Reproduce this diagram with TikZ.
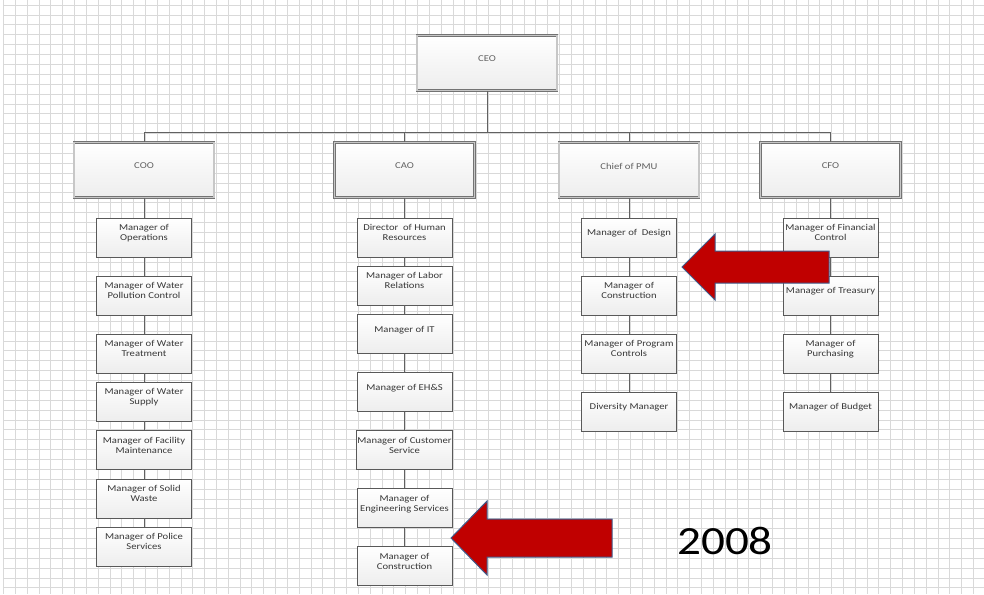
\documentclass[tikz,border=0pt]{standalone}
\usepackage{fontspec}
\usepackage{tikz}
\newfontfamily\orgfont[FakeStretch=1.18]{Carlito}
\definecolor{arrowred}{HTML}{C00000}
\definecolor{arrowrim}{HTML}{3F5A8A}
\tikzset{
	gridline/.style={line width=0.7pt, color=black!15},
	chiefbox/.style={draw=black!55, double=black!22, double distance=1.1pt, line width=0.8pt,
		top color=white, bottom color=black!7, minimum width=140pt, minimum height=55pt,
		inner sep=1pt, text depth=8pt, text=black!62, font=\orgfont\fontsize{9}{10}\selectfont},
	staffbox/.style={draw=black!65, line width=0.8pt, top color=white, bottom color=black!7,
		minimum width=95pt, minimum height=39pt, inner sep=1pt, align=center, text depth=10pt,
		text=black!78, font=\orgfont\fontsize{9}{10}\selectfont},
	link/.style={line width=1pt, color=black!62},
	bigarrow/.style={fill=arrowred, draw=arrowrim, line width=1pt, line join=miter}
}

\begin{document}
\begin{tikzpicture}[x=1pt, y=-1pt]
		%%%%% START %%%%%
		
		\useasboundingbox (0, 0) rectangle (984, 594);
		\fill[white] (0, 0) rectangle (984, 594);
		
		% squared paper
		\foreach \i in {0,...,82}
			\draw[gridline] ({3.4+\i*11.83}, 0) -- ({3.4+\i*11.83}, 594);
		\foreach \j in {0,...,59}
			\draw[gridline] (3.4, {5.1+\j*9.875}) -- (984, {5.1+\j*9.875});
		
		% top of the chart
		\node[chiefbox] (ceo) at (487, 63) {CEO};
		\node[chiefbox] (coo) at (144, 170) {COO};
		\node[chiefbox] (cao) at (404.5, 170) {CAO};
		\node[chiefbox] (pmu) at (629, 170) {Chief of PMU};
		\node[chiefbox] (cfo) at (830.5, 170) {CFO};
		
		\coordinate (bus) at (0, 132.5);
		\draw[link] (ceo.south) -- (ceo.south |- bus);
		\draw[link] (coo.north |- bus) -- (cfo.north |- bus);
		\foreach \n in {coo, cao, pmu, cfo}
			\draw[link] (\n.north |- bus) -- (\n.north);
		
		% COO
		\node[staffbox] (operations) at (144, 237.5) {Manager of\\Operations};
		\node[staffbox] (pollution) at (144, 295.5) {Manager of Water\\Pollution Control};
		\node[staffbox] (treatment) at (144, 353.5) {Manager of Water\\Treatment};
		\node[staffbox] (supply) at (144, 401.5) {Manager of Water\\Supply};
		\node[staffbox] (facility) at (144, 450) {Manager of Facility\\Maintenance};
		\node[staffbox] (waste) at (144, 498.5) {Manager of Solid\\Waste};
		\node[staffbox] (police) at (144, 546.5) {Manager of Police\\Services};
		
		% CAO
		\node[staffbox] (hr) at (404.5, 237.5) {Director~ of Human\\Resources};
		\node[staffbox] (labor) at (404.5, 285.5) {Manager of Labor\\Relations};
		\node[staffbox] (it) at (404.5, 334) {Manager of IT};
		\node[staffbox] (ehs) at (404.5, 392) {Manager of EH\&S};
		\node[staffbox] (customer) at (404.5, 450) {Manager of Customer\\Service};
		\node[staffbox] (engineering) at (404.5, 508) {Manager of\\Engineering Services};
		\node[staffbox] (caoconstr) at (404.5, 566) {Manager of\\Construction};
		
		% Chief of PMU
		\node[staffbox] (design) at (629, 237.5) {Manager of~ Design};
		\node[staffbox] (pmuconstr) at (629, 295.5) {Manager of\\Construction};
		\node[staffbox] (program) at (629, 353.5) {Manager of Program\\Controls};
		\node[staffbox] (diversity) at (629, 411.5) {Diversity Manager};
		
		% CFO
		\node[staffbox] (financial) at (830.5, 237.5) {Manager of Financial\\Control};
		\node[staffbox] (treasury) at (830.5, 295.5) {Manager of Treasury};
		\node[staffbox] (purchasing) at (830.5, 353.5) {Manager of\\Purchasing};
		\node[staffbox] (budget) at (830.5, 411.5) {Manager of Budget};
		
		\foreach \a/\b in {coo/operations, operations/pollution, pollution/treatment,
				treatment/supply, supply/facility, facility/waste, waste/police,
				cao/hr, hr/labor, labor/it, it/ehs, ehs/customer, customer/engineering,
				engineering/caoconstr,
				pmu/design, design/pmuconstr, pmuconstr/program, program/diversity,
				cfo/financial, financial/treasury, treasury/purchasing, purchasing/budget}
			\draw[link] (\a.south) -- (\b.north);
		
		% arrows
		\draw[bigarrow] (682, 267) -- (715, 234) -- (715, 251) -- (829, 251)
			-- (829, 283) -- (715, 283) -- (715, 300) -- cycle;
		\draw[bigarrow] (451, 538) -- (487, 501) -- (487, 519) -- (612, 519)
			-- (612, 557) -- (487, 557) -- (487, 575) -- cycle;
		
		\node[font=\orgfont\fontsize{40}{40}\selectfont] (year) at (725, 541) {2008};
		
		%%%%% END %%%%%
	\end{tikzpicture}
\end{document}
